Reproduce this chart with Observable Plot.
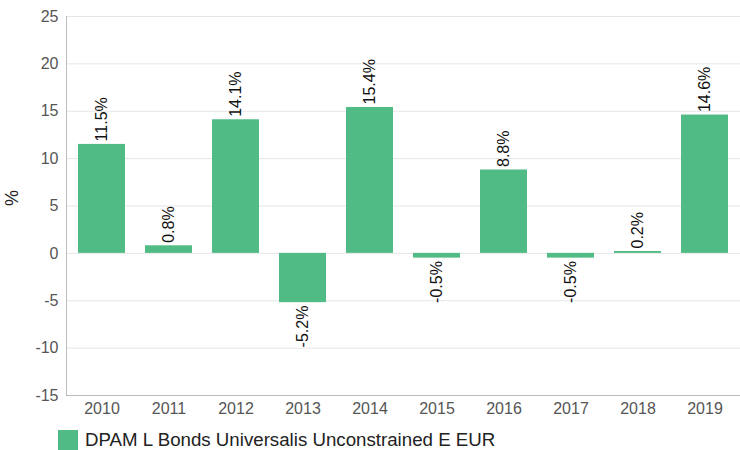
<!DOCTYPE html>
<html><head><meta charset="utf-8">
<script src="https://cdn.jsdelivr.net/npm/d3@7"></script>
<script src="https://cdn.jsdelivr.net/npm/@observablehq/plot@0.6"></script>
<style>
body{margin:0;background:#fff;font-family:"Liberation Sans",Arial,sans-serif;}
#legend{display:flex;align-items:center;margin-left:58px;margin-top:9px;font-size:18.7px;color:#222;}
#legend span.sw{display:inline-block;width:20px;height:21px;background:#50bb84;margin-right:7px;}
</style></head><body>
<div id="chart"></div>
<div id="legend"><span class="sw"></span><span>DPAM L Bonds Universalis Unconstrained E EUR</span></div>
<script>
const years = ["2010","2011","2012","2013","2014","2015","2016","2017","2018","2019"];
const returns = [11.5, 0.8, 14.1, -5.2, 15.4, -0.5, 8.8, -0.5, 0.2, 14.6];
const yTicks = [-15,-10,-5,0,5,10,15,20,25];
const data = years.map((y,i)=>({year:y, value:returns[i], label: returns[i].toFixed(1)+"%"}));

const chart = Plot.plot({
  width: 740, height: 420,
  marginLeft: 66, marginRight: 0, marginTop: 16, marginBottom: 25,
  style: {fontFamily: '"Liberation Sans", Arial, sans-serif', fontSize: "16px", color: "#555"},
  x: {domain: years, paddingInner: 0.3, paddingOuter: 0.15, label: null},
  y: {domain: [-15, 25], ticks: yTicks, label: null},
  marks: [
    Plot.gridY(yTicks, {stroke: "#e6e6e6", strokeOpacity: 1}),
    Plot.barY(data, {x: "year", y: "value", fill: "#50bb84"}),
    Plot.ruleY([-15], {stroke: "#bbb"}),
    Plot.axisX({tickSize: 0, tickPadding: 7, fontSize: 16, fill: "#555"}),
    Plot.axisY({ticks: yTicks, tickFormat: d => String(d), tickSize: 0, tickPadding: 8, fontSize: 16, fill: "#555"}),
    Plot.text(data.filter(d=>d.value>=0), {x: "year", y: "value", text: "label", rotate: -90, textAnchor: "start", dy: -3, fontSize: 16, fill: "#111", lineAnchor: "middle"}),
    Plot.text(data.filter(d=>d.value<0), {x: "year", y: "value", text: "label", rotate: -90, textAnchor: "end", dy: 3, fontSize: 16, fill: "#111", lineAnchor: "middle"}),
    Plot.text(["%"], {frameAnchor: "left", dx: -54, rotate: -90, fontSize: 18, fill: "#222"})
  ]
});
document.getElementById("chart").appendChild(chart);
d3.select(chart).append("line").attr("x1",66.5).attr("x2",66.5).attr("y1",16).attr("y2",395).attr("stroke","#bbb");
</script>
</body></html>
